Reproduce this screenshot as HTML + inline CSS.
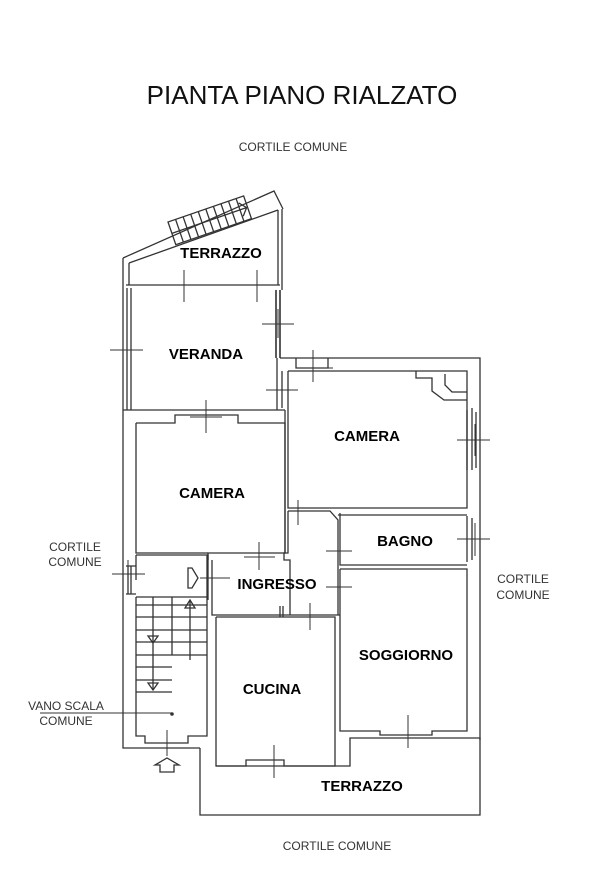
<!DOCTYPE html>
<html><head><meta charset="utf-8"><style>
body{margin:0;background:#fff}
svg{display:block}
text{font-family:"Liberation Sans",Arial,sans-serif}
.b{font-weight:bold;font-size:15px;fill:#000}
.s{font-size:12px;fill:#333}
</style></head><body>
<svg width="613" height="875" viewBox="0 0 613 875" xmlns="http://www.w3.org/2000/svg">
<rect width="613" height="875" fill="#fff"/>
<text x="302" y="104" text-anchor="middle" style="font-size:26px" fill="#111">PIANTA PIANO RIALZATO</text>
<text x="293" y="151" text-anchor="middle" class="s">CORTILE COMUNE</text>
<text x="75" y="551" text-anchor="middle" class="s">CORTILE</text>
<text x="75" y="566" text-anchor="middle" class="s">COMUNE</text>
<text x="523" y="583" text-anchor="middle" class="s">CORTILE</text>
<text x="523" y="599" text-anchor="middle" class="s">COMUNE</text>
<text x="66" y="710" text-anchor="middle" class="s">VANO SCALA</text>
<text x="66" y="725" text-anchor="middle" class="s">COMUNE</text>
<text x="337" y="850" text-anchor="middle" class="s">CORTILE COMUNE</text>

<g fill="none" stroke="#333" stroke-width="1.3">
<path d="M123,258 L274,191 L283,209"/>
<path d="M129,263 L278,210"/>
<path d="M123,258 V748 H200"/>
<path d="M129,263 V285 M278,210 V285 M282,209 V290"/>
<g transform="translate(168,222) rotate(-19)">
<rect x="0" y="0" width="80" height="24"/>
<path d="M0,12 H80 M8,0 V24 M16,0 V24 M24,0 V24 M32,0 V24 M40,0 V24 M48,0 V24 M56,0 V24 M64,0 V24 M72,0 V24 M73,5 L79,12 L73,19"/>
</g>
<path d="M126,285 H280"/>
<path d="M127,288 V410 M131,288 V410"/>
<path d="M276,290 V358 M280,290 V358" stroke-width="1.6"/>
<path d="M277,358 V410 M123,410 H285"/>
<path d="M280,358 H480 V740"/>
<path d="M296,358 V368 H328 V358"/>
<path d="M282,371 V408 M288,371 H467 V508 H288 V371"/>
<path d="M416,371 V378 H432 V391 L444,400 H467"/>
<path d="M445,374 V385 L452,392 H467"/>
<path d="M467,410 V470 M472,408 V470 M476,412 V468"/>
<path d="M136,423 H175 V415 H238 V423 H285 V553 H208 V560"/>
<path d="M136,423 V553 H208"/>
<path d="M285,410 V553"/>
<path d="M288,511 H330 L338,520 V615"/>
<path d="M288,511 V553 H284 V560 H290 V612"/>
<path d="M338,515 H467 M340,513 V565 H467 M340,569 H467 V731 H432 V735 H380 V731 H340 V569"/>
<path d="M467,516 V562 M472,518 V560"/>
<path d="M136,555 H208 V566 M136,555 V580 M136,597 V736 H145 V743 H188 V736 H207 V597"/>
<path d="M128,566 V594 M131,566 V594 M126,566 H136 M126,594 H136"/>
<path d="M136,597 H207 M172,597 V655 M172,655 H207"/>
<path d="M136,605 H172 M136,617 H172 M136,630 H172 M136,642 H172 M136,655 H172 M136,667 H172 M136,680 H172 M136,692 H172"/>
<path d="M172,605 H207 M172,617 H207 M172,630 H207 M172,642 H207"/>
<path d="M153,597 V690 M190,600 V660"/>
<path d="M148,636 L153,643 L158,636 Z M148,683 L153,690 L158,683 Z M185,608 L190,600 L195,608 Z"/>
<path d="M207,555 V597 M212,560 V597 M208,566 V600"/>
<path d="M188,568 H192 L198,578 L192,588 H188 Z"/>
<path d="M160,772 V765 H155 L167,758 L179,765 H174 V772 Z"/>
<path d="M216,617 H335 V766 H284 V760 H246 V766 H216 V617"/>
<path d="M212,597 V615 H290 M290,612 V615 H340"/>
<path d="M200,748 V815 H480 V738 H350 V766 H216"/>
<path d="M280,606 V617 M283,606 V617"/>
</g>
<g stroke="#333" stroke-width="1">
<path d="M184,270 V302 M257,270 V302 M262,324 H294 M278,309 V338 M110,350 H143 M127,336 V365 M300,368 H333 M313,350 V382 M266,390 H298 M282,376 V404 M206,400 V433 M190,417 H222 M457,440 H490 M475,424 V456 M298,500 V525 M259,542 V570 M244,557 H275 M200,578 H230 M326,551 H352 M340,538 V565 M326,587 H352 M457,539 H490 M475,523 V556 M112,574 H145 M128,560 V590 M310,603 V630 M408,715 V748 M274,745 V778 M167,730 V756 M136,713 H172"/>
</g>
<circle cx="172" cy="714" r="1.8" fill="#333"/>
<path d="M40,713 H172" stroke="#333" stroke-width="1"/>
<text x="221" y="258" text-anchor="middle" class="b">TERRAZZO</text>
<text x="206" y="359" text-anchor="middle" class="b">VERANDA</text>
<text x="367" y="441" text-anchor="middle" class="b">CAMERA</text>
<text x="212" y="498" text-anchor="middle" class="b">CAMERA</text>
<text x="405" y="546" text-anchor="middle" class="b">BAGNO</text>
<text x="277" y="589" text-anchor="middle" class="b">INGRESSO</text>
<text x="406" y="660" text-anchor="middle" class="b">SOGGIORNO</text>
<text x="272" y="694" text-anchor="middle" class="b">CUCINA</text>
<text x="362" y="791" text-anchor="middle" class="b">TERRAZZO</text>
</svg>
</body></html>
